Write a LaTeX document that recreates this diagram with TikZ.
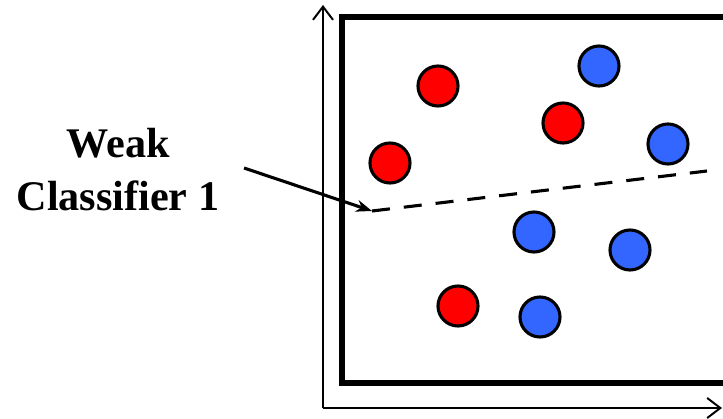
\documentclass[tikz,border=0pt]{standalone}
\usepackage{fontspec}
\setmainfont{Liberation Serif}
\usetikzlibrary{arrows.meta, positioning}
\definecolor{ptred}{HTML}{FF0000}
\definecolor{ptblue}{HTML}{3366FF}
\tikzset{
  pt/.style     = {circle, draw=black, line width=2.2pt, minimum size=1cm, inner sep=0pt},
  redpt/.style  = {pt, fill=ptred},
  bluept/.style = {pt, fill=ptblue},
  axis/.style   = {-{Straight Barb[length=3.3mm, width=5mm]}, line width=1.4pt},
  frame/.style  = {line width=4.5pt},
  split/.style  = {line width=2.2pt, dash pattern=on 0.45cm off 0.35cm},
  pointer/.style= {-{Stealth[length=4mm, width=3mm]}, line width=2.2pt},
  lbl/.style    = {font=\fontsize{30}{37.7}\selectfont\bfseries, align=center},
}

\begin{document}
\begin{tikzpicture}[x=0.025cm, y=-0.025cm]
\useasboundingbox (0,0) rectangle (723,419);

% axes
\coordinate (org) at (323,408);
\coordinate (ytop) at (323,5);
\coordinate (xend) at (722,408);
\draw[axis] (org) -- (ytop);
\draw[axis] (org) -- (xend);

% frame (right side runs past the picture)
\draw[frame] (723,17) -- (342,17) -- (342,383) -- (723,383);

% samples
\node[redpt]  (r1) at (438,86)  {};
\node[redpt]  (r2) at (563,123) {};
\node[redpt]  (r3) at (390,163) {};
\node[redpt]  (r4) at (458,306) {};
\node[bluept] (b1) at (599,66)  {};
\node[bluept] (b2) at (668,144) {};
\node[bluept] (b3) at (534,232) {};
\node[bluept] (b4) at (630,250) {};
\node[bluept] (b5) at (540,317) {};

% weak classifier boundary
\coordinate (cl) at (372,211);
\coordinate (cr) at (707,171);
\draw[split] (cl) -- (cr);

% label
\node[lbl] (wc) at (118,170) {Weak\\Classifier 1};
\coordinate (ps) at (244,168);
\draw[pointer] (ps) -- (cl);

\end{tikzpicture}
\end{document}
